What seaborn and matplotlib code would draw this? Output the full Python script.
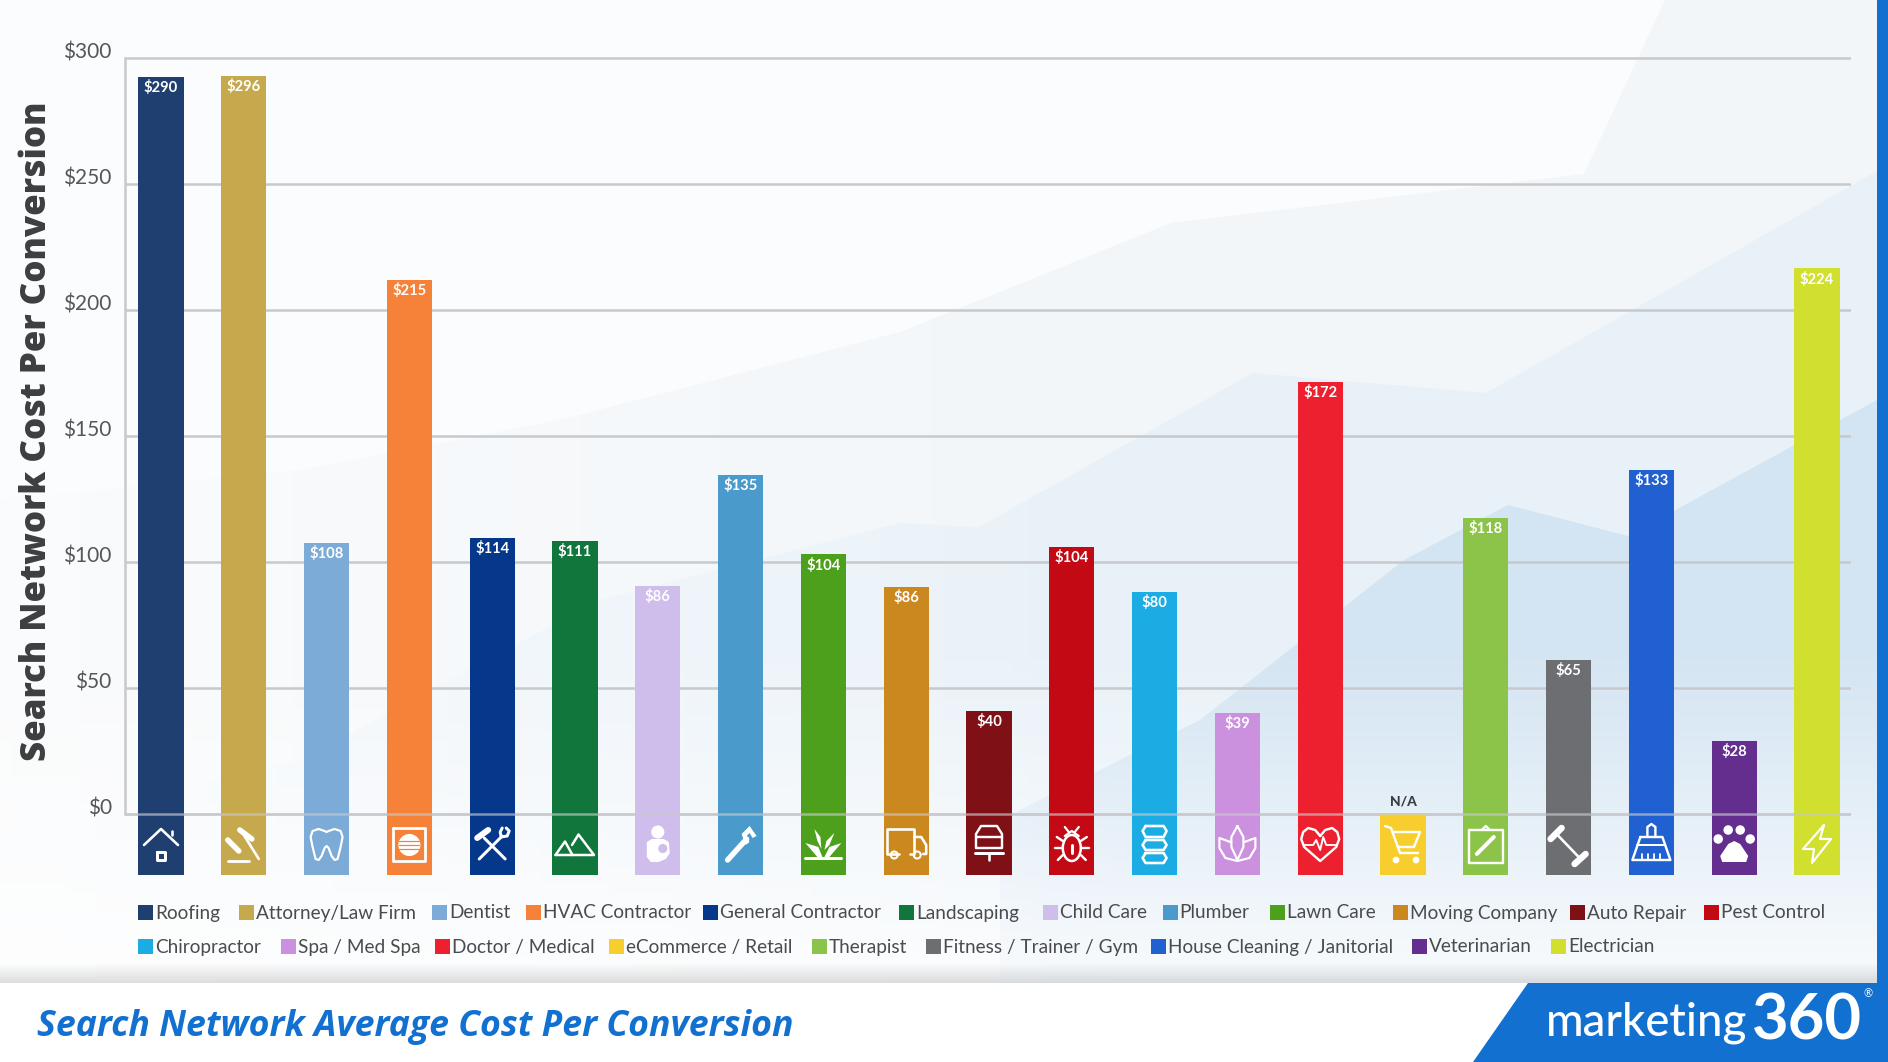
import numpy as np
import pandas as pd
import matplotlib.pyplot as plt
import seaborn as sns
from matplotlib.patches import Polygon, Rectangle, Circle, Ellipse
from matplotlib.transforms import ScaledTranslation

industries = ["Roofing", "Attorney/Law Firm", "Dentist", "HVAC Contractor", "General Contractor",
              "Landscaping", "Child Care", "Plumber", "Lawn Care", "Moving Company", "Auto Repair",
              "Pest Control", "Chiropractor", "Spa / Med Spa", "Doctor / Medical", "eCommerce / Retail",
              "Therapist", "Fitness / Trainer / Gym", "House Cleaning / Janitorial", "Veterinarian",
              "Electrician"]
# bar heights as drawn, they don't quite agree with the printed labels
heights = [292.5, 293, 107.5, 212, 109.5, 108.5, 90.5, 134.5, 103, 90, 41, 106, 88, 40, 171.5, 0,
           117.5, 61, 136.5, 29, 216.5]
printed = ["$290", "$296", "$108", "$215", "$114", "$111", "$86", "$135", "$104", "$86", "$40",
           "$104", "$80", "$39", "$172", "N/A", "$118", "$65", "$133", "$28", "$224"]
tile_depth = [-24.2] * 21
colors = ["#1F3F70", "#C6A94D", "#7BABD6", "#F58238", "#05378B", "#11763B", "#CFBDEC", "#4A9ACB",
          "#4DA01B", "#CB881E", "#7F1015", "#C30A14", "#1BACE3", "#CB90DE", "#EC202E", "#F8CE2E",
          "#8CC44A", "#6D6E71", "#2160D0", "#632E8E", "#D1E02E"]
y_ticks = [0, 50, 100, 150, 200, 250, 300]

W, H = 1888, 1062
BLUE = "#1170D0"
GRID = "#C8C9CC"

sns.set_theme(style="white")
plt.rcParams["font.family"] = ["Lato", "DejaVu Sans"]

df = pd.DataFrame({"industry": industries, "height": heights, "tile": tile_depth})
palette = dict(zip(industries, colors))

fig = plt.figure(figsize=(W / 100, H / 100), dpi=100, facecolor="white")

# backdrop, in pixel coordinates
bg = fig.add_axes([0, 0, 1, 1], zorder=0)
bg.set_xlim(0, W)
bg.set_ylim(H, 0)
bg.axis("off")
bg.add_patch(Rectangle((0, 0), W, 983, color="#FBFCFD", lw=0))
bg.add_patch(Polygon([(0, 500), (300, 470), (560, 420), (900, 332), (1171, 223), (1584, 174), (1665, 0),
                      (1888, 0), (1888, 983), (0, 983)], color="#F2F6F9", lw=0))
bg.add_patch(Polygon([(0, 830), (300, 760), (600, 600), (900, 523), (979, 527), (1253, 373), (1486, 393),
                      (1877, 171), (1877, 983), (0, 983)], color="#E8F1F8", lw=0))
bg.add_patch(Polygon([(1000, 820), (1200, 720), (1404, 560), (1508, 505), (1628, 536), (1877, 400),
                      (1877, 983), (1000, 983)], color="#D3E4F2", lw=0))
# the shapes die away to the left and towards the footer
side = np.ones((2, 200, 4))
side[..., :3] = np.array([0xFB, 0xFC, 0xFD]) / 255
side[..., 3] = np.repeat(np.linspace(0.9, 0, 200)[None, :], 2, axis=0)
bg.imshow(side, extent=(0, 1150, 983, 0), aspect="auto", zorder=2)
fade = np.ones((200, 2, 4))
fade[..., 3] = np.repeat(np.linspace(0, 0.85, 200)[:, None], 2, axis=1)
bg.imshow(fade, extent=(0, W, 983, 640), aspect="auto", zorder=3)
shade = np.zeros((30, 2, 4))
shade[..., 3] = np.repeat(np.linspace(0, 0.13, 30)[:, None], 2, axis=1)
bg.imshow(shade, extent=(0, W, 983, 962), aspect="auto", zorder=3)
bg.set_xlim(0, W)
bg.set_ylim(H, 0)
bg.add_patch(Rectangle((1877, 0), 11, 990, color=BLUE, lw=0, zorder=4))

# chart
ax = fig.add_axes([125 / W, 1 - 875 / H, (1851 - 125) / W, (875 - 53) / H], zorder=1)
ax.patch.set_alpha(0)
sns.barplot(data=df, x="industry", y="height", hue="industry", palette=palette, dodge=False,
            saturation=1, width=0.545, legend=False, ax=ax, zorder=3, linewidth=0)
sns.barplot(data=df, x="industry", y="tile", hue="industry", palette=palette, dodge=False,
            saturation=1, width=0.545, legend=False, ax=ax, zorder=3, linewidth=0)
ax.set_xlim(-0.435, 20.41)
ax.set_ylim(-24.2, 302)
ax.set_xlabel("")
ax.set_xticks([])
ax.set_yticks(y_ticks)
ax.set_yticklabels([f"${v}" for v in y_ticks], fontsize=15, color="#55565A")
ax.tick_params(axis="y", length=0, pad=11)
# tick labels sit a little above their gridlines
nudge = ScaledTranslation(2 / 100, 8 / 100, fig.dpi_scale_trans)
for tick_label in ax.get_yticklabels():
    tick_label.set_transform(tick_label.get_transform() + nudge)
ax.yaxis.grid(True, color=GRID, lw=1.8, zorder=1)
ax.set_axisbelow(True)
ax.axhline(0, color=GRID, lw=1.8, alpha=0.65, zorder=5)
for spine in ["top", "right", "bottom"]:
    ax.spines[spine].set_visible(False)
ax.spines["left"].set_color(GRID)
ax.spines["left"].set_linewidth(1.8)
ax.spines["left"].set_bounds(0, 300)
ax.set_ylabel("")
fig.text(37 / W, 1 - 431 / H, "Search Network Cost Per Conversion", rotation=90, ha="center", va="center",
         fontsize=25.1, fontweight=800, color="#3D3E40", family="Open Sans")

for i, (h, label) in enumerate(zip(heights, printed)):
    if label == "N/A":
        ax.text(i, 2.5, label, ha="center", va="bottom", fontsize=10, fontweight="black", color="#3D3E40", zorder=6)
    else:
        ax.text(i, h - 4.2, label, ha="center", va="center", fontsize=10.6, fontweight="bold", color="white", zorder=6)

# everything in front of the chart, also in pixels
top = fig.add_axes([0, 0, 1, 1], zorder=2)
top.set_xlim(0, W)
top.set_ylim(H, 0)
top.axis("off")
top.patch.set_alpha(0)


def line(cx, pts, lw=2.2, color="white", closed=False):
    pts = list(pts) + ([pts[0]] if closed else [])
    xs = [cx + p[0] for p in pts]
    ys = [845 + p[1] for p in pts]
    top.plot(xs, ys, color=color, lw=lw / 1.39, solid_capstyle="round", solid_joinstyle="round")


def blob(cx, pts, color="white"):
    top.add_patch(Polygon([(cx + x, 845 + y) for x, y in pts], closed=True, color=color, lw=0))


def dot(cx, x, y, r, color="white", edge=None):
    top.add_patch(Circle((cx + x, 845 + y), r, facecolor=color, edgecolor=edge or color, lw=1.5))


def box(cx, x0, y0, x1, y1, lw=2.4):
    line(cx, [(x0, y0), (x1, y0), (x1, y1), (x0, y1)], lw=lw, closed=True)


def draw_icon(n, cx, c):
    if n == 0:  # house
        line(cx, [(-17, 0), (0, -16), (17, 0)], 2.6)
        line(cx, [(11, -10), (11, -14)], 2.6)
        box(cx, -4, 7, 4, 15, 3)
    elif n == 1:  # gavel
        line(cx, [(0, -10), (15, 14)], 2.6)
        line(cx, [(-4, -15), (8, -6)], 5.5)
        line(cx, [(-16, -5), (-5, 6)], 5.5)
        line(cx, [(-16, 15.5), (5, 15.5)], 2.8)
    elif n == 2:  # tooth
        line(cx, [(-8, -16), (-2, -14), (0, -13), (2, -14), (8, -16), (14, -14), (16, -8), (14, 2), (11, 14),
                  (8, 15), (5, 11), (2, 3), (0, 1), (-2, 3), (-5, 11), (-8, 15), (-11, 14), (-14, 2),
                  (-16, -8), (-14, -14)], 2.2, closed=True)
    elif n == 3:  # hvac
        box(cx, -16, -17, 16, 16, 2.8)
        dot(cx, 0, 0, 10)
        for y in (-4, 0, 4):
            line(cx, [(-10, y), (10, y)], 1.2, color=c)
    elif n == 4:  # tools
        line(cx, [(-13, 14), (10, -9)], 3)
        line(cx, [(13, 14), (-8, -7)], 3)
        line(cx, [(-15, -7), (-4, -15)], 6)
        line(cx, [(9, -8), (15, -9), (17, -14), (14, -17)], 3)
        line(cx, [(9, -8), (8, -13), (10, -17)], 3)
    elif n == 5:  # mountains
        line(cx, [(-19.5, 10), (-10, -3.5), (-2.5, 10)], 2.5)
        line(cx, [(-3, 0), (3.5, -10.5), (19, 10), (-19.5, 10)], 2.5)
    elif n == 6:  # child care
        dot(cx, 0, -13, 5.5)
        blob(cx, [(-11, -3), (-6, -6), (6, -6), (11, -3), (12, 8), (8, 14), (1, 17), (-7, 17), (-11, 12)])
        dot(cx, 5, 3.5, 3.5, color=c)
    elif n == 7:  # pipe wrench
        line(cx, [(-13, 15), (6, -6)], 5.5)
        blob(cx, [(1, -11), (9, -19), (16, -9), (12, -7), (9, -12), (6, -9), (9, -3), (5, 0)])
    elif n == 8:  # grass
        line(cx, [(-18, 13), (18, 13)], 3)
        blob(cx, [(-18, -2), (-5, 2), (-1, 12), (-6, 12)])
        blob(cx, [(18, -2), (6, 2), (1, 12), (6, 12)])
        blob(cx, [(-9, -16), (-3, -8), (-2, 4), (-6, -4)])
        blob(cx, [(11, -12), (3, -4), (1, 5), (6, 0)])
    elif n == 9:  # truck
        line(cx, [(-7, 9), (-19, 9), (-19, -16), (8, -16), (8, 9), (4, 9)], 2.6)
        line(cx, [(8, -8), (15, -8), (20, 0), (20, 9), (17, 9)], 2.6)
        dot(cx, -12, 10, 3.5, color=c, edge="white")
        dot(cx, 11, 10, 3.5, color=c, edge="white")
    elif n == 10:  # car on a lift
        line(cx, [(-13, 3), (-13, -11), (-8, -19), (8, -19), (13, -11), (13, 3)], 2.4, closed=True)
        line(cx, [(-13, -8), (13, -8)], 2.4)
        line(cx, [(-14, 8), (14, 8)], 3)
        line(cx, [(0, 8), (0, 15)], 2.6)
    elif n == 11:  # bug
        top.add_patch(Ellipse((cx, 848), 18, 26, facecolor="none", edgecolor="white", lw=1.8))
        line(cx, [(0, 0), (0, 8)], 3)
        line(cx, [(-7, -9), (0, -14), (7, -9)], 2.2)
        for s in (-1, 1):
            line(cx, [(s * 9, -4), (s * 15, -8)], 2.4)
            line(cx, [(s * 10, 3), (s * 17, 3)], 2.4)
            line(cx, [(s * 9, 10), (s * 14, 15)], 2.4)
            line(cx, [(s * 3, -13), (s * 7, -18)], 2.2)
    elif n == 12:  # spine
        line(cx, [(-9, -19), (9, -19), (12, -14), (9, -8), (-9, -8), (-12, -14)], 2.6, closed=True)
        line(cx, [(-9, -5), (9, -5), (12, 0), (9, 5), (-9, 5), (-12, 0)], 2.6, closed=True)
        line(cx, [(-9, 8), (9, 8), (12, 13), (9, 18), (-9, 18), (-12, 13)], 2.6, closed=True)
    elif n == 13:  # lotus
        line(cx, [(0, -19), (6, -8), (6, 2), (0, 15), (-6, 2), (-6, -8)], 2.2, closed=True)
        line(cx, [(-7, -3), (-18, -7), (-18, 3), (-12, 13), (0, 16), (12, 13), (18, 3), (18, -7), (7, -3)], 2.2)
    elif n == 14:  # heart
        line(cx, [(0, -9), (-5, -15), (-12, -17), (-17, -13), (-19, -6), (-16, 2), (0, 16), (16, 2), (19, -6),
                  (17, -13), (12, -17), (5, -15)], 2.4, closed=True)
        line(cx, [(-16, 0), (-7, 0), (-4, -5), (0, 5), (3, -8), (6, 0), (16, 0)], 1.9)
    elif n == 15:  # cart
        line(cx, [(-18, -19), (-12, -17), (-3, 8), (15, 8)], 2.4)
        line(cx, [(-10, -13), (17, -13), (11, 2), (-5, 2)], 2.4)
        dot(cx, -7, 15, 2.3)
        dot(cx, 13, 15, 2.3)
    elif n == 16:  # clipboard
        box(cx, -17, -15, 17, 18, 2.4)
        line(cx, [(-4, -15), (0, -19), (4, -15)], 2.4)
        line(cx, [(-9, 9), (8, -8)], 4)
    elif n == 17:  # barbell
        line(cx, [(-12, -11), (12, 14)], 2.6)
        line(cx, [(-18, -6), (-7, -17)], 6.5)
        line(cx, [(6, 19), (17, 9)], 6.5)
    elif n == 18:  # broom
        line(cx, [(-4, -8), (-4, -18), (0, -21), (4, -18), (4, -8)], 2.4)
        line(cx, [(-11, -8), (11, -8), (19, 15), (-19, 15)], 2.4, closed=True)
        line(cx, [(-14, 0), (14, 0)], 2)
        for x in (-9, -3, 3, 9):
            line(cx, [(x, 9), (x, 15)], 1.8)
    elif n == 19:  # paw
        blob(cx, [(0, -4), (-6, -1), (-14, 11), (-12, 17), (12, 17), (14, 11), (6, -1)])
        for x, y in [(-16, -6), (-6, -15), (6, -15), (16, -6)]:
            dot(cx, x, y, 3.7)
    elif n == 20:  # bolt
        line(cx, [(7, -20), (-14, 4), (-3, 4), (-5, 18), (14, -6), (3, -6)], 2.2, closed=True)


fig.canvas.draw()
for n, c in enumerate(colors):
    draw_icon(n, 161 + n * 82.8, c)

# legend: two rows of hand placed swatches, a real legend would force columns
row_one = [138, 239, 432, 526, 703, 899, 1043, 1162.5, 1270, 1393, 1570, 1704]
row_two = [138, 280.6, 435, 609, 812, 926, 1151, 1412, 1551]
starts = [(x, 913) for x in row_one] + [(x, 947) for x in row_two]
for name, c, (x, y) in zip(industries, colors, starts):
    top.add_patch(Rectangle((x, y - 8), 15, 15, color=c, lw=0))
    top.text(x + 17, y, name, va="center", ha="left", fontsize=13.7, color="#4A4B4E")

# footer
top.add_patch(Polygon([(1528, 983), (1888, 983), (1888, 1062), (1473, 1062)], color=BLUE, lw=0))
top.text(37, 1027, "Search Network Average Cost Per Conversion", ha="left", va="center", fontsize=25.7,
         fontweight="bold", style="italic", color=BLUE, family="Open Sans")
top.text(1546, 1023, "marketing", ha="left", va="center", fontsize=32.8, fontweight="medium", color="white")
top.text(1752, 1021, "360", ha="left", va="center", fontsize=45.5, fontweight="bold", color="white")
top.text(1868, 994, "®", ha="center", va="center", fontsize=8, color="white")
top.set_xlim(0, W)
top.set_ylim(H, 0)

fig.savefig("out.png", dpi=100)
